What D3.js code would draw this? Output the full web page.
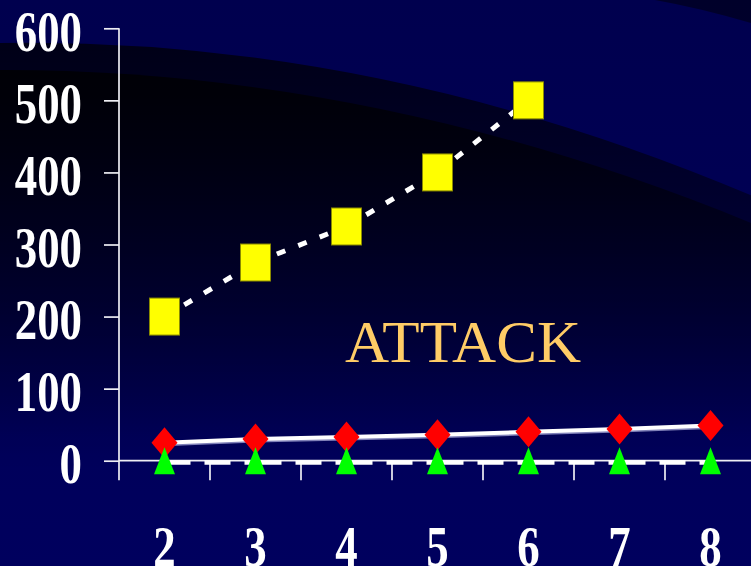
<!DOCTYPE html>
<html>
<head>
<meta charset="utf-8">
<script src="https://cdn.jsdelivr.net/npm/d3@7"></script>
<style>
  html, body { margin: 0; padding: 0; background: #000055; }
  svg { display: block; }
</style>
</head>
<body>
<svg id="chart" width="751" height="566"></svg>
<script>
// Category labels along the horizontal axis
const categories = ["2", "3", "4", "5", "6", "7", "8"];
// Series values (null = no point for that category)
const squareValues   = [200, 275, 325, 400, 500, null, null];
const diamondValues  = [25, 30, 33, 36, 40, 44, 49];
const triangleValues = [0, 0, 0, 0, 0, 0, 0];
// Vertical axis ticks
const yTickValues = [0, 100, 200, 300, 400, 500, 600];
const seriesLabel = "ATTACK";

const W = 751, H = 566;
const svg = d3.select("#chart");
const defs = svg.append("defs");

// ---------- backdrop: navy field with a dark sweeping band ----------
const baseGrad = defs.append("linearGradient").attr("id", "baseGrad")
  .attr("gradientUnits", "userSpaceOnUse").attr("x1", 0).attr("y1", 0).attr("x2", 0).attr("y2", H);
baseGrad.append("stop").attr("offset", 0).attr("stop-color", "#00004e");
baseGrad.append("stop").attr("offset", 1).attr("stop-color", "#00005e");

const shade1 = defs.append("linearGradient").attr("id", "shade1")
  .attr("gradientUnits", "userSpaceOnUse").attr("x1", 0).attr("y1", 40).attr("x2", 0).attr("y2", 470);
shade1.append("stop").attr("offset", 0).attr("stop-color", "#000").attr("stop-opacity", 0.72);
shade1.append("stop").attr("offset", 0.38).attr("stop-color", "#000").attr("stop-opacity", 0.45);
shade1.append("stop").attr("offset", 1).attr("stop-color", "#000").attr("stop-opacity", 0);

const shade2 = defs.append("linearGradient").attr("id", "shade2")
  .attr("gradientUnits", "userSpaceOnUse").attr("x1", 0).attr("y1", 65).attr("x2", 0).attr("y2", 440);
shade2.append("stop").attr("offset", 0).attr("stop-color", "#000").attr("stop-opacity", 0.8);
shade2.append("stop").attr("offset", 0.45).attr("stop-color", "#000").attr("stop-opacity", 0.4);
shade2.append("stop").attr("offset", 1).attr("stop-color", "#000").attr("stop-opacity", 0);

const bg = svg.append("g").attr("class", "backdrop");
bg.append("rect").attr("width", W).attr("height", H).attr("fill", "url(#baseGrad)");
bg.append("path")
  .attr("d", `M0,43 Q375.5,36.7 751,195.3 L751,${H} L0,${H} Z`)
  .attr("fill", "url(#shade1)");
bg.append("path")
  .attr("d", `M0,70 Q375.5,69.2 751,222.9 L751,${H} L0,${H} Z`)
  .attr("fill", "url(#shade2)");
bg.append("path")
  .attr("d", "M655,0 Q700,8 751,23 L751,0 Z")
  .attr("fill", "#000").attr("opacity", 0.45);

// ---------- scales ----------
const x = d3.scaleBand().domain(categories).range([119, 756]).paddingInner(0).paddingOuter(0);
const y = d3.scaleLinear().domain([0, 600]).range([460.7, 28.3]);
const cx = c => x(c) + x.bandwidth() / 2;

const axisColor = "#eeeef4";

// ---------- vertical axis ----------
const yAxisG = svg.append("g").attr("transform", "translate(119,0)")
  .call(d3.axisLeft(y).tickValues(yTickValues).tickSize(15).tickSizeOuter(0).tickPadding(22));
yAxisG.select(".domain").remove();
yAxisG.selectAll(".tick line").attr("stroke", axisColor).attr("stroke-width", 1.7);
yAxisG.selectAll(".tick text")
  .attr("x", null).attr("dy", null)
  .attr("transform", "translate(-37,22) scale(0.8,1)")
  .attr("text-anchor", "end")
  .attr("fill", "#ffffff")
  .style("font-family", "'Liberation Serif', 'Times New Roman', serif")
  .style("font-weight", "bold")
  .style("font-size", "56px");
// axis spine, running a little below zero like the category dividers
svg.append("line")
  .attr("x1", 119).attr("x2", 119).attr("y1", y(600)).attr("y2", y(0) + 19.5)
  .attr("stroke", axisColor).attr("stroke-width", 1.7);

// ---------- horizontal axis ----------
svg.append("line")
  .attr("x1", 119).attr("x2", W).attr("y1", y(0)).attr("y2", y(0))
  .attr("stroke", axisColor).attr("stroke-width", 1.7);
// dividers between categories
svg.append("g").selectAll("line").data(categories.slice(1)).join("line")
  .attr("x1", d => x(d)).attr("x2", d => x(d))
  .attr("y1", y(0)).attr("y2", y(0) + 19.5)
  .attr("stroke", axisColor).attr("stroke-width", 1.7);
// category labels
const xAxisG = svg.append("g").attr("transform", `translate(0,${y(0)})`)
  .call(d3.axisBottom(x).tickSize(0).tickPadding(0));
xAxisG.select(".domain").remove();
xAxisG.selectAll(".tick text")
  .attr("y", null).attr("dy", null)
  .attr("transform", "translate(0,105) scale(0.8,1)")
  .attr("text-anchor", "middle")
  .attr("fill", "#ffffff")
  .style("font-family", "'Liberation Serif', 'Times New Roman', serif")
  .style("font-weight", "bold")
  .style("font-size", "56px");

// ---------- helpers ----------
function segments(values) {
  const pts = categories.map((c, i) => ({ c, v: values[i] })).filter(p => p.v != null);
  const out = [];
  for (let i = 0; i < pts.length - 1; i++) out.push([pts[i], pts[i + 1]]);
  return out;
}
const segLine = d3.line().x(p => cx(p.c)).y(p => y(p.v));

// ---------- square series: dotted connector ----------
svg.append("g").selectAll("path").data(segments(squareValues)).join("path")
  .attr("d", segLine)
  .attr("fill", "none").attr("stroke", "#ffffff").attr("stroke-width", 5)
  .attr("stroke-dasharray", "9,14");

// ---------- diamond series: solid connector ----------
const diamondPts = categories.map((c, i) => ({ c, v: diamondValues[i] }));
svg.append("path").datum(diamondPts)
  .attr("d", d3.line().x(p => cx(p.c)).y(p => y(p.v) + 1.5))
  .attr("fill", "none").attr("stroke", "#7f80b8").attr("stroke-width", 4);
svg.append("path").datum(diamondPts)
  .attr("d", segLine)
  .attr("fill", "none").attr("stroke", "#ffffff").attr("stroke-width", 4);

// ---------- triangle series: dashed connector along zero ----------
svg.append("g").selectAll("path").data(segments(triangleValues)).join("path")
  .attr("d", d3.line().x(p => cx(p.c)).y(p => y(p.v) + 1.8))
  .attr("fill", "none").attr("stroke", "#ffffff").attr("stroke-width", 4.5)
  .attr("stroke-dasharray", "26,14");

// ---------- markers ----------
const sqW = 30, sqH = 37;
svg.append("g").selectAll("rect")
  .data(categories.map((c, i) => ({ c, v: squareValues[i] })).filter(p => p.v != null))
  .join("rect")
  .attr("x", p => cx(p.c) - sqW / 2).attr("y", p => y(p.v) - sqH / 2)
  .attr("width", sqW).attr("height", sqH)
  .attr("fill", "#ffff00").attr("stroke", "#8a8a00").attr("stroke-width", 1);

const dW = 13, dH = 15.5;
svg.append("g").selectAll("path").data(diamondPts).join("path")
  .attr("d", p => {
    const px = cx(p.c), py = y(p.v);
    return `M${px},${py - dH}L${px + dW},${py}L${px},${py + dH}L${px - dW},${py}Z`;
  })
  .attr("fill", "#ff0000");

const tW = 10.5, tH = 13.5;
svg.append("g").selectAll("path")
  .data(categories.map((c, i) => ({ c, v: triangleValues[i] })))
  .join("path")
  .attr("d", p => {
    const px = cx(p.c), py = y(p.v);
    return `M${px},${py - tH}L${px + tW},${py + tH}L${px - tW},${py + tH}Z`;
  })
  .attr("fill", "#00ff00");

// ---------- series caption ----------
svg.append("text")
  .attr("x", 345).attr("y", 362)
  .attr("fill", "#ffcc66")
  .attr("textLength", 236).attr("lengthAdjust", "spacingAndGlyphs")
  .style("font-family", "'Liberation Serif', 'Times New Roman', serif")
  .style("font-size", "60px")
  .text(seriesLabel);
</script>
</body>
</html>
